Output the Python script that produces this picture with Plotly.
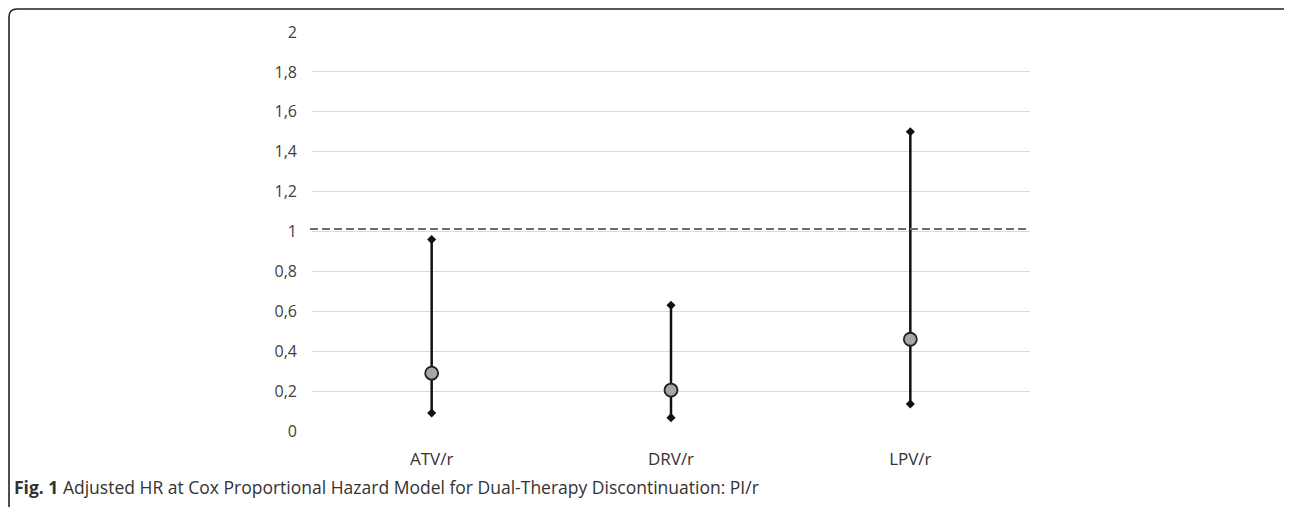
import plotly.graph_objects as go

categories = ["ATV/r", "DRV/r", "LPV/r"]
hr = [0.29, 0.205, 0.46]
ci_low = [0.09, 0.067, 0.135]
ci_high = [0.96, 0.63, 1.50]
ref_line = 1.012
y_ticks = [0, 0.2, 0.4, 0.6, 0.8, 1, 1.2, 1.4, 1.6, 1.8, 2]
y_ticktext = [str(v).replace(".", ",") for v in y_ticks]
caption_bold = "Fig. 1"
caption_text = " Adjusted HR at Cox Proportional Hazard Model for Dual-Therapy Discontinuation: PI/r"

OFF = 8  # browser body margin
W, H = 1292 - OFF, 507 - OFF
ML, MT = 312 - OFF, 32 - OFF
MR = W - (1030 - OFF)
MB = H - (431 - OFF)
PW, PH = W - ML - MR, H - MT - MB


def px(x):
    return (x - OFF - ML) / PW


def py(y):
    return (H + OFF - MB - y) / PH


fig = go.Figure()

for c, lo, hi in zip(categories, ci_low, ci_high):
    fig.add_trace(go.Scatter(x=[c, c], y=[lo, hi], mode="lines",
                             line=dict(color="#111111", width=2.5),
                             showlegend=False, hoverinfo="skip"))

fig.add_trace(go.Scatter(x=categories + categories, y=ci_low + ci_high, mode="markers",
                         marker=dict(symbol="diamond", size=7, color="#111111"),
                         showlegend=False, hoverinfo="skip"))

fig.add_trace(go.Scatter(x=categories, y=hr, mode="markers",
                         marker=dict(symbol="circle", size=13, color="#a6a6a6",
                                     line=dict(color="#222222", width=1.8)),
                         showlegend=False))

shapes = [
    dict(type="line", xref="paper", yref="y", x0=px(310), x1=1.0, y0=ref_line, y1=ref_line,
         line=dict(color="#6e6e6e", width=2, dash="8px,4px"), layer="above"),
    dict(type="path", xref="paper", yref="paper",
         path=(f"M {px(9)},{py(510)} L {px(9)},{py(17)} Q {px(9)},{py(9)} {px(17)},{py(9)} "
               f"L {px(1285)},{py(9)} Q {px(1290)},{py(9)} {px(1292)},{py(14)}"),
         line=dict(color="#222222", width=1.6)),
]

fig.update_layout(
    width=W, height=H,
    margin=dict(l=ML, r=MR, t=MT, b=MB),
    paper_bgcolor="white", plot_bgcolor="white",
    font=dict(family="Open Sans", color="#404040", size=15),
    shapes=shapes,
    xaxis=dict(type="category", showgrid=False, zeroline=False, showline=False,
               ticks="", tickfont=dict(size=17, color="#333333"), ticklabelstandoff=16,
               range=[-0.5, 2.5], fixedrange=True),
    yaxis=dict(range=[0, 2], tickvals=y_ticks, ticktext=y_ticktext,
               showgrid=True, gridcolor="#d9d9d9", gridwidth=1,
               zeroline=False, showline=False, ticks="",
               tickfont=dict(size=16, color="#404040"), ticklabelstandoff=14,
               fixedrange=True),
    annotations=[dict(xref="paper", yref="paper", x=px(12), y=py(487),
                      xanchor="left", yanchor="middle", showarrow=False,
                      text=f"<b>{caption_bold}</b>{caption_text}",
                      font=dict(family="Open Sans", size=17.5, color="#333333"))],
)

fig.write_html("out.html")
